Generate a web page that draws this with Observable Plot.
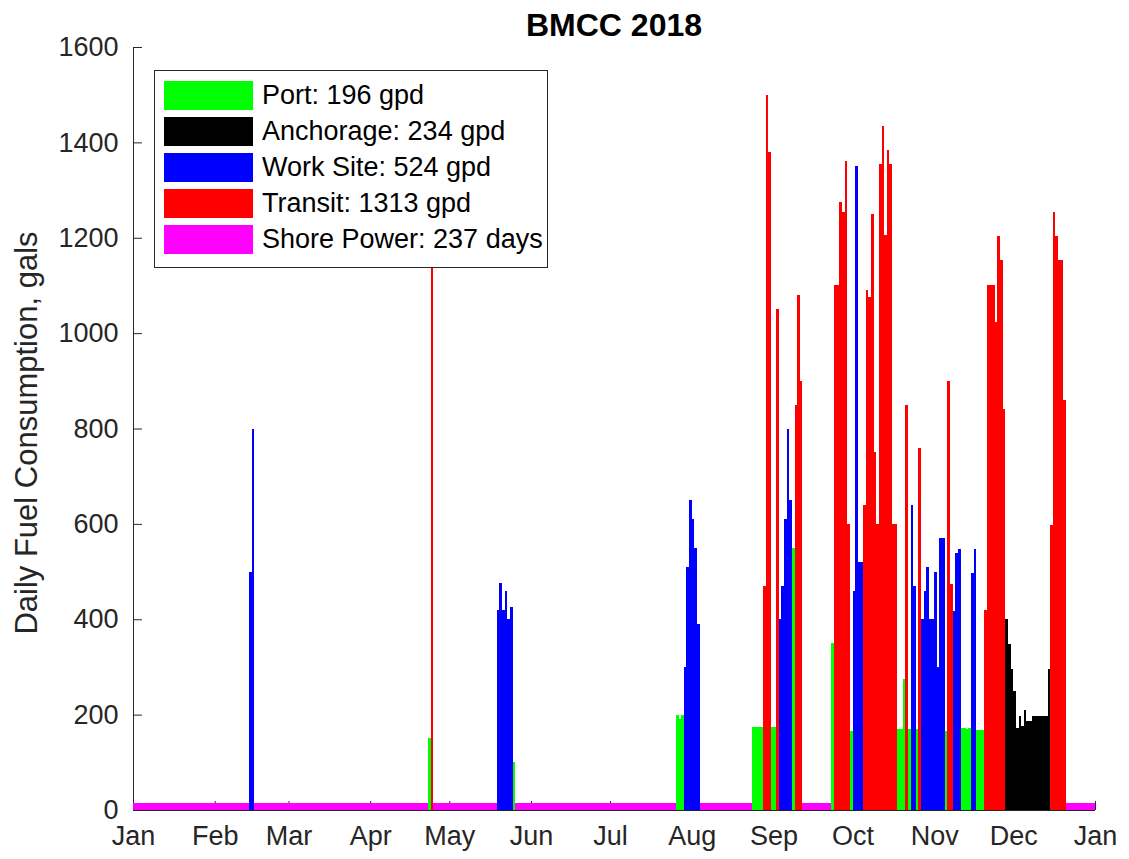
<!DOCTYPE html>
<html>
<head>
<meta charset="utf-8">
<script src="https://cdn.jsdelivr.net/npm/d3@7"></script>
<script src="https://cdn.jsdelivr.net/npm/@observablehq/plot@0.6"></script>
<style>
  body { margin: 0; background: #fff; font-family: "Liberation Sans", Arial, sans-serif; }
  #wrap { position: relative; width: 1129px; height: 859px; }
  #title { position: absolute; left: 133px; width: 962px; top: 7px; text-align: center;
           font-weight: bold; font-size: 32px; line-height: 36px; color: #000; }
  #legend { position: absolute; left: 154px; top: 70px; width: 392px; height: 190px;
            border: 1px solid #262626; background: #fff; padding-top: 6px; box-sizing: content-box; }
  #legend .row { display: flex; align-items: center; height: 36px; }
  #legend .sw { width: 89px; height: 29px; margin-left: 9px; }
  #legend .lab { margin-left: 9px; font-size: 27px; color: #000; white-space: nowrap; }
</style>
</head>
<body>
<div id="wrap">
  <div id="chart"></div>
  <div id="title">BMCC 2018</div>
  <div id="legend"></div>
</div>
<script>
// ---- data (day of year, 0 = Jan 1) ----
const monthStarts = [0, 31, 59, 90, 120, 151, 181, 212, 243, 273, 304, 334, 365];
const monthLabels = ["Jan","Feb","Mar","Apr","May","Jun","Jul","Aug","Sep","Oct","Nov","Dec","Jan"];
const yTicks = [0, 200, 400, 600, 800, 1000, 1200, 1400, 1600];

const portDays   = [112, 144, 206, 207, 208, 235, 236, 237, 238, 242, 243, 250, 265, 272, 290, 291, 292, 294, 297, 308, 314, 315, 316, 317, 320, 321, 322];
const portValues = [150, 100, 200, 190, 200, 175, 175, 175, 175, 175, 175, 550, 350, 165, 170, 170, 275, 170, 170, 165, 172, 172, 170, 172, 168, 168, 168];

const anchorageDays   = [331, 332, 333, 334, 335, 336, 337, 338, 339, 340, 341, 342, 343, 344, 345, 346, 347];
const anchorageValues = [400, 348, 296, 249, 172, 198, 176, 209, 187, 187, 198, 198, 198, 198, 198, 198, 296];

const workDays   = [44, 45, 138, 139, 140, 141, 142, 143, 209, 210, 211, 212, 213, 214, 245, 246, 247, 248, 249, 273, 274, 275, 276, 295, 296, 299, 300, 301, 302, 303, 304, 305, 306, 307, 311, 312, 313, 318, 319];
const workValues = [500, 800, 420, 475, 420, 460, 400, 425, 300, 510, 650, 610, 550, 390, 400, 470, 610, 800, 650, 460, 1350, 520, 520, 640, 470, 400, 460, 510, 400, 400, 500, 300, 570, 570, 418, 538, 548, 498, 548];

const transitDays   = [113, 239, 240, 241, 244, 251, 252, 253, 266, 267, 268, 269, 270, 271, 277, 278, 279, 280, 281, 282, 283, 284, 285, 286, 287, 288, 289, 293, 298, 309, 310, 323, 324, 325, 326, 327, 328, 329, 330, 348, 349, 350, 351, 352, 353];
const transitValues = [1300, 470, 1500, 1380, 1050, 850, 1080, 900, 1100, 1100, 1275, 1255, 1360, 600, 640, 1090, 1075, 1250, 750, 600, 1355, 1435, 1205, 1384, 1355, 600, 600, 850, 760, 900, 473, 420, 1100, 1100, 1100, 1023, 1204, 1153, 840, 597, 1253, 1204, 1153, 1153, 860];

const shoreStarts = [0, 46, 114, 145, 215, 254, 354];
const shoreEnds   = [44, 112, 138, 206, 235, 265, 365];
const shoreLevel  = 15;

const legendLabels = ["Port: 196 gpd", "Anchorage: 234 gpd", "Work Site: 524 gpd", "Transit: 1313 gpd", "Shore Power: 237 days"];
const legendColors = ["#00ff00", "#000000", "#0000ff", "#ff0000", "#ff00ff"];
const yLabel = "Daily Fuel Consumption, gals";

// ---- build tables ----
const toRows = (days, vals) => days.map((d, i) => ({day: d, value: vals[i]}));
const port = toRows(portDays, portValues);
const anchorage = toRows(anchorageDays, anchorageValues);
const work = toRows(workDays, workValues);
const transit = toRows(transitDays, transitValues);
const shore = shoreStarts.map((s, i) => ({start: s, end: shoreEnds[i], value: shoreLevel}));

const axisColor = "#262626";
const barOpts = (color) => ({x1: "day", x2: d => d.day + 1, y: "value", fill: color, shapeRendering: "crispEdges"});

const chart = Plot.plot({
  width: 1129,
  height: 859,
  marginLeft: 133,
  marginRight: 34,
  marginTop: 47,
  marginBottom: 49,
  style: {fontFamily: '"Liberation Sans", Arial, sans-serif', fontSize: "27px", color: axisColor, background: "transparent"},
  x: {domain: [0, 365]},
  y: {domain: [0, 1600]},
  marks: [
    Plot.ruleX(monthStarts, {y1: 0, y2: 19, stroke: axisColor}),
    Plot.ruleY(yTicks, {x1: 0, x2: 3.4, stroke: axisColor}),
    Plot.ruleX([0], {y1: 0, y2: 1600, stroke: axisColor}),
    Plot.ruleY([0], {stroke: axisColor}),
    Plot.rectY(shore, {x1: "start", x2: "end", y: "value", fill: "#ff00ff", shapeRendering: "crispEdges"}),
    Plot.rectY(port, barOpts("#00ff00")),
    Plot.rectY(anchorage, barOpts("#000000")),
    Plot.rectY(work, barOpts("#0000ff")),
    Plot.rectY(transit, barOpts("#ff0000")),
    Plot.axisX({ticks: monthStarts, tickFormat: d => monthLabels[monthStarts.indexOf(d)], tickSize: 0, tickPadding: 15, label: null}),
    Plot.axisY({ticks: yTicks, tickFormat: d => String(d), tickSize: 0, tickPadding: 15, label: null}),
    Plot.text([yLabel], {text: d => d, frameAnchor: "left", rotate: -90, dx: -106, dy: 4, fill: axisColor, fontSize: 31, textAnchor: "middle"})
  ]
});
document.getElementById("chart").appendChild(chart);

const legend = document.getElementById("legend");
legendLabels.forEach((lab, i) => {
  const row = document.createElement("div");
  row.className = "row";
  const sw = document.createElement("div");
  sw.className = "sw";
  sw.style.background = legendColors[i];
  const t = document.createElement("div");
  t.className = "lab";
  t.textContent = lab;
  row.appendChild(sw); row.appendChild(t);
  legend.appendChild(row);
});
</script>
</body>
</html>
